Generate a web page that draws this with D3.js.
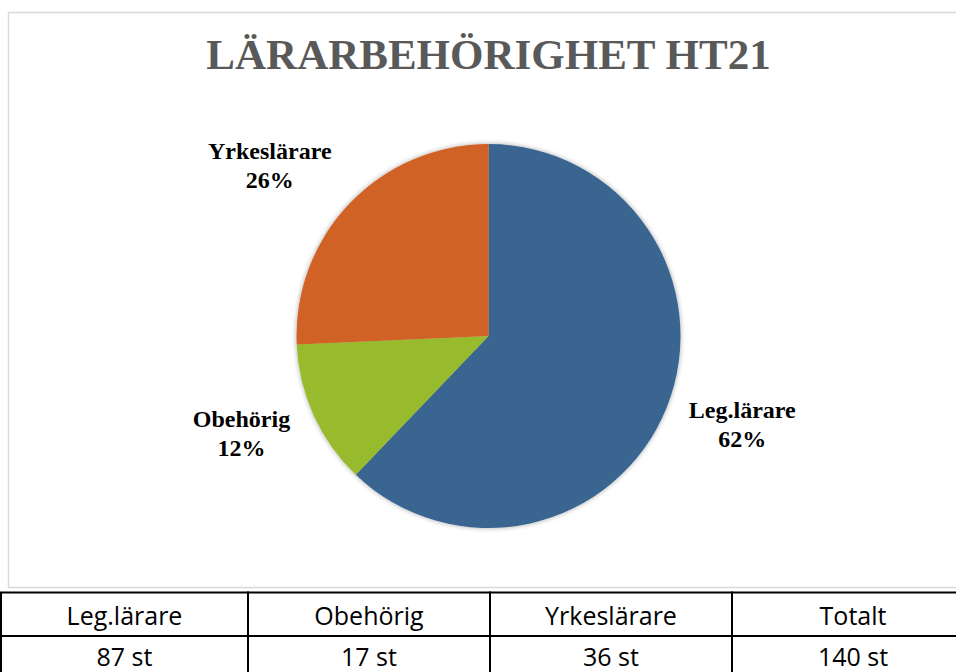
<!DOCTYPE html>
<html>
<head>
<meta charset="utf-8">
<script src="https://cdn.jsdelivr.net/npm/d3@7"></script>
<style>
  body { margin: 0; background: #fff; }
  svg { display: block; }
</style>
</head>
<body>
<div id="chart"></div>
<script>
// Data
const categories = ["Leg.lärare", "Obehörig", "Yrkeslärare"]
const counts = [87, 17, 36]
const sliceColors = ["#3A6591", "#98BB2E", "#D06226"]
const totalLabel = "Totalt"
const title = "LÄRARBEHÖRIGHET HT21"

const W = 956, H = 672
const cx = 488.5, cy = 336, radius = 192

const svg = d3.select("#chart").append("svg")
    .attr("width", W)
    .attr("height", H)

// soft shadow under the pie
let defs = svg.append("defs")
let filt = defs.append("filter").attr("id", "shadow")
    .attr("x", "-10%").attr("y", "-10%").attr("width", "120%").attr("height", "120%")
filt.append("feDropShadow")
    .attr("dx", 0).attr("dy", 0).attr("stdDeviation", 2.5)
    .attr("flood-color", "#000").attr("flood-opacity", 0.35)

// chart frame
svg.append("rect")
    .attr("x", 8.5).attr("y", 12.5)
    .attr("width", 960).attr("height", 575)
    .attr("fill", "#fff")
    .attr("stroke", "#d9d9d9")
    .attr("stroke-width", 1.5)

svg.append("text")
    .attr("x", cx).attr("y", 69)
    .attr("text-anchor", "middle")
    .attr("font-family", "'Liberation Serif', 'DejaVu Serif', serif")
    .attr("font-weight", "bold")
    .attr("font-size", "43px")
    .attr("fill", "#595959")
    .text(title)

// Pie
let pie = d3.pie().sort(null).value(d => d.value)
let pieData = pie(categories.map((c, i) => ({name: c, value: counts[i]})))
let total = d3.sum(counts)
let pct = d3.format(".0%")

let arc = d3.arc().innerRadius(0).outerRadius(radius)
let labelArc = d3.arc().innerRadius(268).outerRadius(268)

let g = svg.append("g").attr("transform", `translate(${cx},${cy})`)

g.append("g")
    .attr("filter", "url(#shadow)")
    .selectAll("path")
    .data(pieData)
    .join("path")
    .attr("d", arc)
    .attr("fill", (d, i) => sliceColors[i])

// nudges from the label arc centroid to where the labels sit
let labelOffsets = [[5, -18], [-3, -20], [-25, 8.5]]

let labels = g.selectAll("text.slice-label")
    .data(pieData)
    .join("text")
    .attr("class", "slice-label")
    .attr("text-anchor", "middle")
    .attr("font-family", "'Liberation Serif', 'DejaVu Serif', serif")
    .attr("font-weight", "bold")
    .attr("font-size", "24px")
    .attr("fill", "#000")
    .attr("transform", (d, i) => {
        let c = labelArc.centroid(d)
        return `translate(${c[0] + labelOffsets[i][0]},${c[1] + labelOffsets[i][1]})`
    })

labels.append("tspan").attr("x", 0).attr("dy", 0).text(d => d.data.name)
labels.append("tspan").attr("x", 0).attr("dy", 29).text(d => pct(d.value / total))

// Table under the chart
let headers = categories.concat([totalLabel])
let values = counts.concat([total]).map(v => v + " st")

let colX = d3.scaleBand()
    .domain(d3.range(headers.length))
    .range([6, 974])
    .paddingInner(0)

let tableTop = 592.5, rowH = 43.5, tableLeft = 1

let table = svg.append("g")

table.selectAll("rect")
    .data(d3.range(headers.length * 2))
    .join("rect")
    .attr("x", i => i % headers.length === 0 ? tableLeft : colX(i % headers.length))
    .attr("y", i => tableTop + Math.floor(i / headers.length) * rowH)
    .attr("width", i => i % headers.length === 0 ? colX(1) - tableLeft : colX.bandwidth())
    .attr("height", rowH)
    .attr("fill", "#fff")
    .attr("stroke", "#000")
    .attr("stroke-width", 2)

let cellCenter = i => {
    let left = i === 0 ? tableLeft : colX(i)
    return (left + colX(i) + colX.bandwidth()) / 2
}

let cellText = (rows, rowIndex, baseline) => {
    table.selectAll("text.row" + rowIndex)
        .data(rows)
        .join("text")
        .attr("class", "row" + rowIndex)
        .attr("x", (d, i) => cellCenter(i))
        .attr("y", baseline)
        .attr("text-anchor", "middle")
        .attr("font-family", "'Open Sans', Lato, sans-serif")
        .attr("font-size", "25px")
        .attr("fill", "#000")
        .text(d => d)
}
cellText(headers, 0, 625)
cellText(values, 1, 666)
</script>
</body>
</html>
